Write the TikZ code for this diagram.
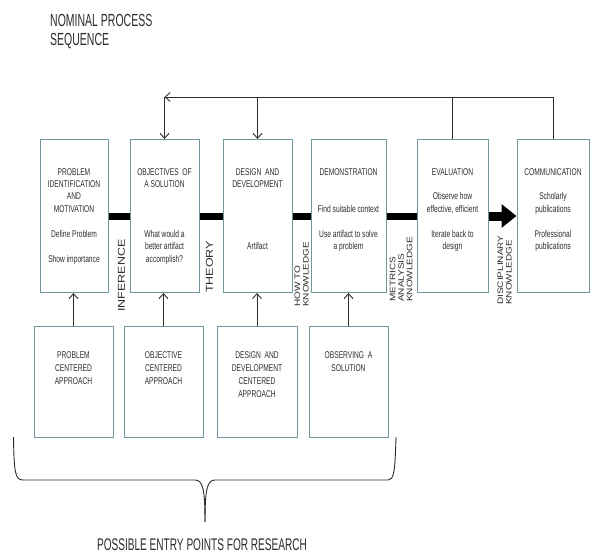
\documentclass[tikz,border=0pt]{standalone}
\usepackage{fontspec}
\setmainfont{Liberation Sans}
\newfontfamily\boxfont[FakeStretch=0.68]{Liberation Sans}
\newfontfamily\titlefont[FakeStretch=0.6]{Liberation Sans}
\newfontfamily\rotfont[FakeStretch=1.25]{Liberation Sans}
\usetikzlibrary{arrows.meta}
\definecolor{boxline}{RGB}{112,150,158}
\definecolor{ink}{RGB}{45,45,45}
\begin{document}
\begin{tikzpicture}[x=1pt,y=-1pt,
  topbox/.style={draw=boxline, line width=1pt, minimum height=153pt, inner sep=0pt},
  botbox/.style={draw=boxline, line width=1pt, minimum height=111pt, inner sep=0pt},
  btxt/.style={font=\boxfont\fontsize{9.8}{12.45}\selectfont, align=center, inner sep=0pt, anchor=north, text=ink},
  bbtxt/.style={font=\boxfont\fontsize{9.8}{13}\selectfont, align=center, inner sep=0pt, anchor=north, text=ink},
  rlab/.style={rotate=90, anchor=west, align=left, inner sep=0pt, text=ink},
  bigrot/.style={font=\rotfont\fontsize{10}{11}\selectfont},
  smallrot/.style={font=\rotfont\fontsize{8}{8.5}\selectfont},
  bar/.style={line width=7pt, black},
  thinline/.style={draw=ink, line width=0.9pt},
  tip/.style={-{Straight Barb[length=5pt,width=9pt]}}
]
\fill[white] (0,0) rectangle (590,554);
\useasboundingbox (0,0) rectangle (590,554);

% title
\node[font=\titlefont\fontsize{17.5}{19.5}\selectfont, align=left, anchor=north west, inner sep=0pt, text=ink] (title) at (50,14) {NOMINAL PROCESS\\SEQUENCE};

% top boxes
\node[topbox, minimum width=68pt] (p1) at (74,216) {};
\node[topbox, minimum width=69pt] (p2) at (164.5,216) {};
\node[topbox, minimum width=69pt] (p3) at (257.5,216) {};
\node[topbox, minimum width=75pt] (p4) at (348.5,216) {};
\node[topbox, minimum width=71pt] (p5) at (452.5,216) {};
\node[topbox, minimum width=72pt] (p6) at (553,216) {};

\node[btxt] (t1) at ([yshift=-29pt]p1.north) {PROBLEM\\IDENTIFICATION\\AND\\MOTIVATION\\[12.45pt]Define Problem\\[12.45pt]Show importance};
\node[btxt] (t2) at ([yshift=-29pt]p2.north) {OBJECTIVES~ OF\\A SOLUTION\\[37.35pt]What would a\\better artifact\\accomplish?};
\node[btxt] (t3) at ([yshift=-29pt]p3.north) {DESIGN~ AND\\DEVELOPMENT\\[49.8pt]Artifact};
\node[btxt] (t4) at ([yshift=-29pt]p4.north) {DEMONSTRATION\\[24.9pt]Find suitable context\\[12.45pt]Use artifact to solve\\a problem};
\node[btxt] (t5) at ([yshift=-29pt]p5.north) {EVALUATION\\[12.45pt]Observe how\\effective, efficient\\[12.45pt]Iterate back to\\design};
\node[btxt] (t6) at ([yshift=-29pt]p6.north) {COMMUNICATION\\[12.45pt]Scholarly\\publications\\[12.45pt]Professional\\publications};

% bottom boxes
\node[botbox, minimum width=79pt] (e1) at (73.5,381.5) {};
\node[botbox, minimum width=79pt] (e2) at (163.5,381.5) {};
\node[botbox, minimum width=80pt] (e3) at (257,381.5) {};
\node[botbox, minimum width=79pt] (e4) at (348.5,381.5) {};

\node[bbtxt] (u1) at ([yshift=-25.5pt]e1.north) {PROBLEM\\CENTERED\\APPROACH};
\node[bbtxt] (u2) at ([yshift=-25.5pt]e2.north) {OBJECTIVE\\CENTERED\\APPROACH};
\node[bbtxt] (u3) at ([yshift=-25.5pt]e3.north) {DESIGN~ AND\\DEVELOPMENT\\CENTERED\\APPROACH};
\node[bbtxt] (u4) at ([yshift=-25.5pt]e4.north) {OBSERVING~ A\\SOLUTION};

% thick bars
\draw[bar] (p1.east) -- (p2.west);
\draw[bar] (p2.east) -- (p3.west);
\draw[bar] (p3.east) -- (p4.west);
\draw[bar] (p4.east) -- (p5.west);
\draw[line width=9pt, black, -{Triangle[length=15pt,width=23pt]}] (p5.east) -- (p6.west);

% rotated labels
\node[rlab, bigrot] (l1) at (121.5,312) {INFERENCE};
\node[rlab, bigrot] (l2) at (209.5,293) {THEORY};
\node[rlab, smallrot] (l3) at (301.5,307) {HOW TO\\KNOWLEDGE};
\node[rlab, smallrot] (l4) at (401,302) {METRICS\\ANALYSIS\\KNOWLEDGE};
\node[rlab, smallrot] (l5) at (504.5,305) {DISCIPLINARY\\KNOWLEDGE};

% feedback loop
\coordinate (fb) at (0,97);
\draw[thinline, tip] (p6.north) |- (p2.north |- fb);
\draw[thinline, tip] (p2.north |- fb) -- (p2.north);
\draw[thinline, tip] (p3.north |- fb) -- (p3.north);
\draw[thinline] (p5.north) -- (p5.north |- fb);

% entry arrows
\draw[thinline, tip] (e1.north) -- (e1.north |- p1.south);
\draw[thinline, tip] (e2.north) -- (e2.north |- p2.south);
\draw[thinline, tip] (e3.north) -- (e3.north |- p3.south);
\draw[thinline, tip] (e4.north) -- (e4.north |- p4.south);

% brace
\coordinate (btip) at (205,522);
\draw[thinline] (13.5,437) .. controls (14,472) and (15,480) .. (23,480) -- (195,480) .. controls (203,480) and (205,490) .. (btip);
\draw[thinline] (btip) .. controls (205,490) and (207,480) .. (215,480) -- (388,480) .. controls (394,480) and (395,472) .. (396,437);

\node[font=\titlefont\fontsize{16.8}{18}\selectfont, anchor=base, inner sep=0pt, text=ink] (entry) at (202,550) {POSSIBLE ENTRY POINTS FOR RESEARCH};
\end{tikzpicture}
\end{document}
